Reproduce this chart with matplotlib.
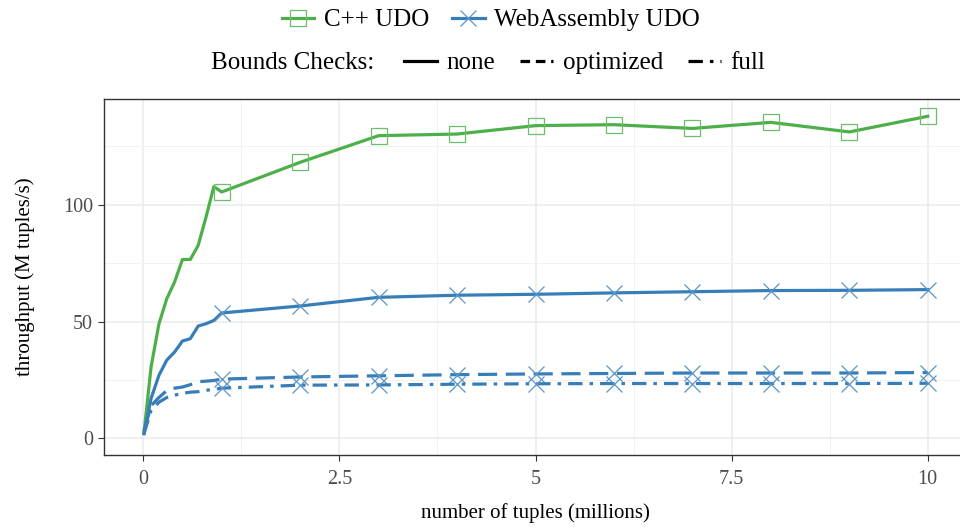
import matplotlib
matplotlib.use('Agg')
import matplotlib.pyplot as plt
from matplotlib.lines import Line2D
from matplotlib.ticker import MultipleLocator

plt.rcParams['font.family'] = ['Liberation Serif', 'DejaVu Serif']

# Data
tuples = [0.01, 0.1, 0.2, 0.3, 0.4, 0.5, 0.6, 0.7, 0.8, 0.9,
          1, 2, 3, 4, 5, 6, 7, 8, 9, 10]

cpp_none = [2.5, 30.6, 49.0, 59.8, 67.0, 76.6, 76.6, 82.6, 94.7, 107.8,
            105.5, 118.2, 129.6, 130.3, 133.9, 134.3, 132.7, 135.3, 131.2, 137.9]

wasm_none = [2.0, 17.1, 27.0, 33.5, 37.0, 41.7, 42.7, 48.1, 49.1, 50.5,
             53.7, 56.7, 60.4, 61.3, 61.7, 62.3, 62.8, 63.3, 63.4, 63.7]
wasm_optimized = [3.0, 14.0, 17.5, 20.5, 21.5, 22.0, 23.0, 24.3, 24.5, 24.8,
                  25.4, 26.3, 26.8, 27.3, 27.6, 27.8, 28.0, 28.0, 28.0, 28.2]
wasm_full = [2.0, 12.0, 15.5, 17.5, 18.5, 19.3, 19.8, 20.0, 20.6, 21.0,
             21.5, 22.8, 22.9, 23.2, 23.4, 23.5, 23.5, 23.5, 23.5, 23.6]

green = '#4DAF4A'
blue = '#377EB8'
green_mk = '#6BBF68'
blue_mk = '#5A95C8'
lw = 2.3

# markers only on the whole-million points
marks = [i for i, v in enumerate(tuples) if v >= 1]

dashed = (6, 2.7)
dotdash = (4.5, 2.2, 1.1, 2.2)

fig = plt.figure(figsize=(9.6, 5.27), dpi=100)
ax = fig.add_axes([104 / 960, 1 - 455 / 527, 863 / 960, 356 / 527])

ax.plot(tuples, cpp_none, color=green, lw=lw, marker='s', markevery=marks,
        markersize=11, markerfacecolor='none', markeredgewidth=0.9,
        markeredgecolor=green_mk)
ax.plot(tuples, wasm_none, color=blue, lw=lw, marker='x', markevery=marks,
        markersize=12, markeredgewidth=0.9, markeredgecolor=blue_mk)
ax.plot(tuples, wasm_optimized, color=blue, lw=lw, dashes=dashed, marker='x',
        markevery=marks, markersize=12, markeredgewidth=0.9, markeredgecolor=blue_mk)
ax.plot(tuples, wasm_full, color=blue, lw=lw, dashes=dotdash, marker='x',
        markevery=marks, markersize=12, markeredgewidth=0.9, markeredgecolor=blue_mk)

# Axes styling (theme_bw look)
ax.set_xlim(-0.5, 10.5)
ax.set_ylim(-7.1, 145.3)
ax.xaxis.set_minor_locator(MultipleLocator(1.25))
ax.yaxis.set_minor_locator(MultipleLocator(25))
ax.set_xticks([0, 2.5, 5, 7.5, 10])
ax.set_xticklabels(['0', '2.5', '5', '7.5', '10'])
ax.set_yticks([0, 50, 100])
ax.set_yticklabels(['0', '50', '100'])
ax.grid(which='major', color='#EBEBEB', lw=1.1)
ax.grid(which='minor', color='#F2F2F2', lw=0.7)
ax.set_axisbelow(True)
ax.tick_params(which='major', length=4, width=0.8, color='#333333',
               labelsize=14.5, labelcolor='#4D4D4D')
ax.tick_params(axis='x', pad=7)
ax.tick_params(axis='y', pad=4)
ax.tick_params(which='minor', length=0)
for s in ax.spines.values():
    s.set_color('#333333')
    s.set_linewidth(1.0)

ax.set_xlabel('number of tuples (millions)', fontsize=15, labelpad=10)
ax.set_ylabel('throughput (M tuples/s)', fontsize=15, labelpad=20)

# Legend row 1: implementations
h1 = [Line2D([], [], color=green, lw=lw, marker='s', markersize=11,
             markerfacecolor='none', markeredgewidth=0.9, markeredgecolor=green_mk),
      Line2D([], [], color=blue, lw=lw, marker='x', markersize=12,
             markeredgewidth=0.9, markeredgecolor=blue_mk)]
fig.legend(h1, ['C++ UDO', 'WebAssembly UDO'], loc='center',
           bbox_to_anchor=(491 / 960, 1 - 20 / 527), ncol=2, frameon=False,
           fontsize=18, handlelength=1.3, handletextpad=0.4, columnspacing=0.9,
           borderaxespad=0, borderpad=0)

# Legend row 2: bounds checks
fig.text(211 / 960, 1 - 63 / 527, 'Bounds Checks:', fontsize=18, va='center', ha='left')
h2 = [Line2D([], [], color='black', lw=lw),
      Line2D([], [], color='black', lw=lw, dashes=(3, 1.8)),
      Line2D([], [], color='black', lw=lw, dashes=dotdash)]
fig.legend(h2, ['none', 'optimized', 'full'], loc='center left',
           bbox_to_anchor=(404 / 960, 1 - 63 / 527), ncol=3, frameon=False,
           fontsize=18, handlelength=1.3, handletextpad=0.4, columnspacing=1.0,
           borderaxespad=0, borderpad=0)

plt.savefig('out.png', dpi=100)
